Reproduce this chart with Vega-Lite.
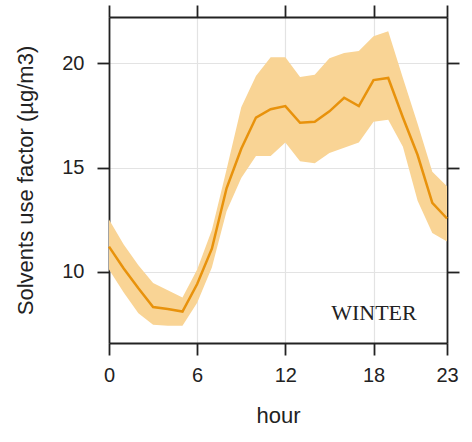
{
  "$schema": "https://vega.github.io/schema/vega-lite/v6.json",
  "autosize": "none",
  "width": 338,
  "height": 326,
  "padding": {"left": 109, "top": 17, "right": 25, "bottom": 99},
  "background": "white",
  "config": {
    "view": {"stroke": null},
    "axis": {
      "labelFont": "Liberation Sans",
      "titleFont": "Liberation Sans",
      "labelFontSize": 20,
      "titleFontSize": 22,
      "labelColor": "#222222",
      "titleColor": "#222222",
      "titleFontWeight": "normal",
      "labelFlush": false,
      "labelOverlap": false,
      "domainColor": "#222222",
      "domainWidth": 1.8,
      "tickColor": "#222222",
      "tickWidth": 1.8,
      "tickSize": 12,
      "gridColor": "#e3e3e3",
      "gridWidth": 1.2
    }
  },
  "data": {
    "values": [
      {"hour": 0, "mean": 11.2, "lo": 10.1, "hi": 12.5},
      {"hour": 1, "mean": 10.15, "lo": 9.0, "hi": 11.3},
      {"hour": 2, "mean": 9.2, "lo": 8.0, "hi": 10.3},
      {"hour": 3, "mean": 8.3, "lo": 7.45, "hi": 9.45},
      {"hour": 4, "mean": 8.2, "lo": 7.4, "hi": 9.1},
      {"hour": 5, "mean": 8.08, "lo": 7.4, "hi": 8.75},
      {"hour": 6, "mean": 9.4, "lo": 8.5, "hi": 10.1},
      {"hour": 7, "mean": 11.1, "lo": 10.2, "hi": 12.0},
      {"hour": 8, "mean": 14.0, "lo": 12.9, "hi": 14.9},
      {"hour": 9, "mean": 15.9, "lo": 14.5, "hi": 17.9},
      {"hour": 10, "mean": 17.4, "lo": 15.55, "hi": 19.4},
      {"hour": 11, "mean": 17.8, "lo": 15.55, "hi": 20.3},
      {"hour": 12, "mean": 17.95, "lo": 16.2, "hi": 20.3},
      {"hour": 13, "mean": 17.15, "lo": 15.3, "hi": 19.35},
      {"hour": 14, "mean": 17.2, "lo": 15.2, "hi": 19.45},
      {"hour": 15, "mean": 17.7, "lo": 15.7, "hi": 20.25},
      {"hour": 16, "mean": 18.35, "lo": 15.95, "hi": 20.5},
      {"hour": 17, "mean": 17.95, "lo": 16.2, "hi": 20.6},
      {"hour": 18, "mean": 19.2, "lo": 17.2, "hi": 21.3},
      {"hour": 19, "mean": 19.3, "lo": 17.3, "hi": 21.55},
      {"hour": 20, "mean": 17.4, "lo": 16.0, "hi": 19.3},
      {"hour": 21, "mean": 15.6, "lo": 13.4, "hi": 17.1},
      {"hour": 22, "mean": 13.3, "lo": 11.85, "hi": 14.8},
      {"hour": 23, "mean": 12.55, "lo": 11.45, "hi": 14.1}
    ]
  },
  "resolve": {"axis": {"x": "independent", "y": "independent"}},
  "layer": [
    {
      "mark": {"type": "area", "color": "#F9D495", "opacity": 1},
      "encoding": {
        "x": {
          "field": "hour", "type": "quantitative",
          "scale": {"domain": [0, 23], "nice": false, "zero": false},
          "axis": {"orient": "bottom", "values": [0, 6, 12, 18, 23], "title": "hour", "grid": true, "labelPadding": 10, "titlePadding": 20}
        },
        "y": {
          "field": "lo", "type": "quantitative",
          "scale": {"domain": [6.57, 22.23], "nice": false, "zero": false},
          "axis": {"orient": "left", "values": [10, 15, 20], "title": "Solvents use factor (µg/m3)", "grid": true, "labelPadding": 13, "titlePadding": 24}
        },
        "y2": {"field": "hi"}
      }
    },
    {
      "mark": {"type": "line", "color": "#E8920C", "strokeWidth": 2.5},
      "encoding": {
        "x": {
          "field": "hour", "type": "quantitative",
          "axis": {"orient": "top", "values": [0, 6, 12, 18, 23], "labels": false, "title": null, "grid": false}
        },
        "y": {
          "field": "mean", "type": "quantitative",
          "axis": {"orient": "right", "values": [10, 15, 20], "labels": false, "title": null, "grid": false}
        }
      }
    },
    {
      "data": {"values": [{"label": "WINTER"}]},
      "mark": {"type": "text", "font": "Liberation Serif", "fontSize": 22, "color": "#222222", "align": "center", "baseline": "middle"},
      "encoding": {
        "text": {"field": "label", "type": "nominal"},
        "x": {"datum": 18.03, "type": "quantitative", "axis": null},
        "y": {"datum": 7.99, "type": "quantitative", "axis": null}
      }
    }
  ]
}
